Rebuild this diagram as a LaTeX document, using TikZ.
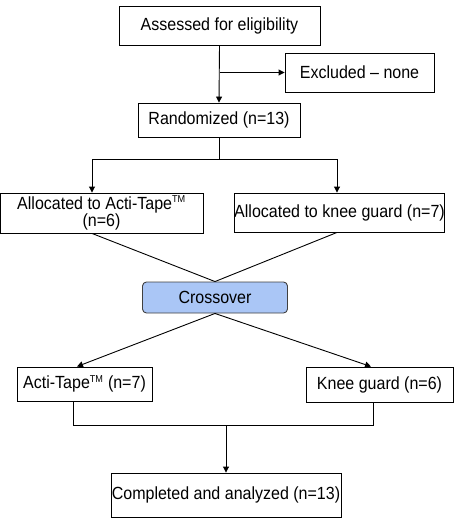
\documentclass[tikz,border=0pt]{standalone}
\usepackage{fontspec}
\setmainfont[FakeStretch=0.91]{Liberation Sans}
\usepackage{tikz}
\usetikzlibrary{arrows.meta, positioning}

\definecolor{crossblue}{RGB}{170,198,246}
\newcommand{\tmark}{\textsuperscript{\fontsize{10}{10}\selectfont TM}}

\begin{document}
\begin{tikzpicture}[
    x=1pt, y=-1pt,
    >={Triangle[width=6pt,length=6pt]},
    line width=0.9pt,
    every node/.style={font=\fontsize{17.6}{17}\selectfont},
    box/.style={draw, inner sep=0pt, align=center}
  ]
  \useasboundingbox (0,0) rectangle (454,522);

  % ---- enrolment ----
  \node[box, minimum width=201, minimum height=39] (assess) at (219.5,25.5) {Assessed for eligibility};
  \node[box, minimum width=149, minimum height=39] (excl)   at (359.5,72.5) {Excluded -- none};
  \node[box, minimum width=162, minimum height=34] (rand)   at (219,120)    {Randomized (n=13)};

  \draw[->] (assess.south) -- (rand.north);
  \draw[->] (assess.south |- excl.west) -- (excl.west);

  % ---- allocation ----
  \node[box, minimum width=203, minimum height=40] (alloctape) at (101.5,213)
    {Allocated to Acti-Tape\tmark\\(n=6)};
  \node[box, minimum width=209, minimum height=39] (allocknee) at (339.5,212.5)
    {Allocated to knee guard (n=7)};

  \coordinate (splitl) at (92,159);
  \coordinate (splitr) at (337,159);
  \draw (rand.south) -- (rand.south |- splitl);
  \draw (splitl) -- (splitr);
  \draw[->] (splitl) -- (splitl |- alloctape.north);
  \draw[->] (splitr) -- (splitr |- allocknee.north);

  % ---- crossover ----
  \node[box, draw=black!75, fill=crossblue, rounded corners=4pt,
        minimum width=145, minimum height=31] (cross) at (215,297.5) {Crossover};

  \draw (splitl |- alloctape.south) -- (cross.north);
  \draw (splitr |- allocknee.south) -- (cross.north);

  % ---- second period ----
  \node[box, minimum width=135, minimum height=34] (tape) at (84.5,384)  {Acti-Tape\tmark{} (n=7)};
  \node[box, minimum width=147, minimum height=35] (knee) at (379.5,384.5) {Knee guard (n=6)};

  \draw[->] (cross.south) -- ([xshift=-7.5pt]tape.north);
  \draw[->] (cross.south) -- ([xshift=-8.5pt]knee.north);

  % ---- analysis ----
  \node[box, minimum width=230, minimum height=44] (done) at (226,495) {Completed and analyzed (n=13)};

  \coordinate (mergel) at (73,425);
  \coordinate (merger) at (373,425);
  \draw (mergel |- tape.south) -- (mergel) -- (merger) -- (merger |- knee.south);
  \draw[->] (done.north |- mergel) -- (done.north);
\end{tikzpicture}
\end{document}
